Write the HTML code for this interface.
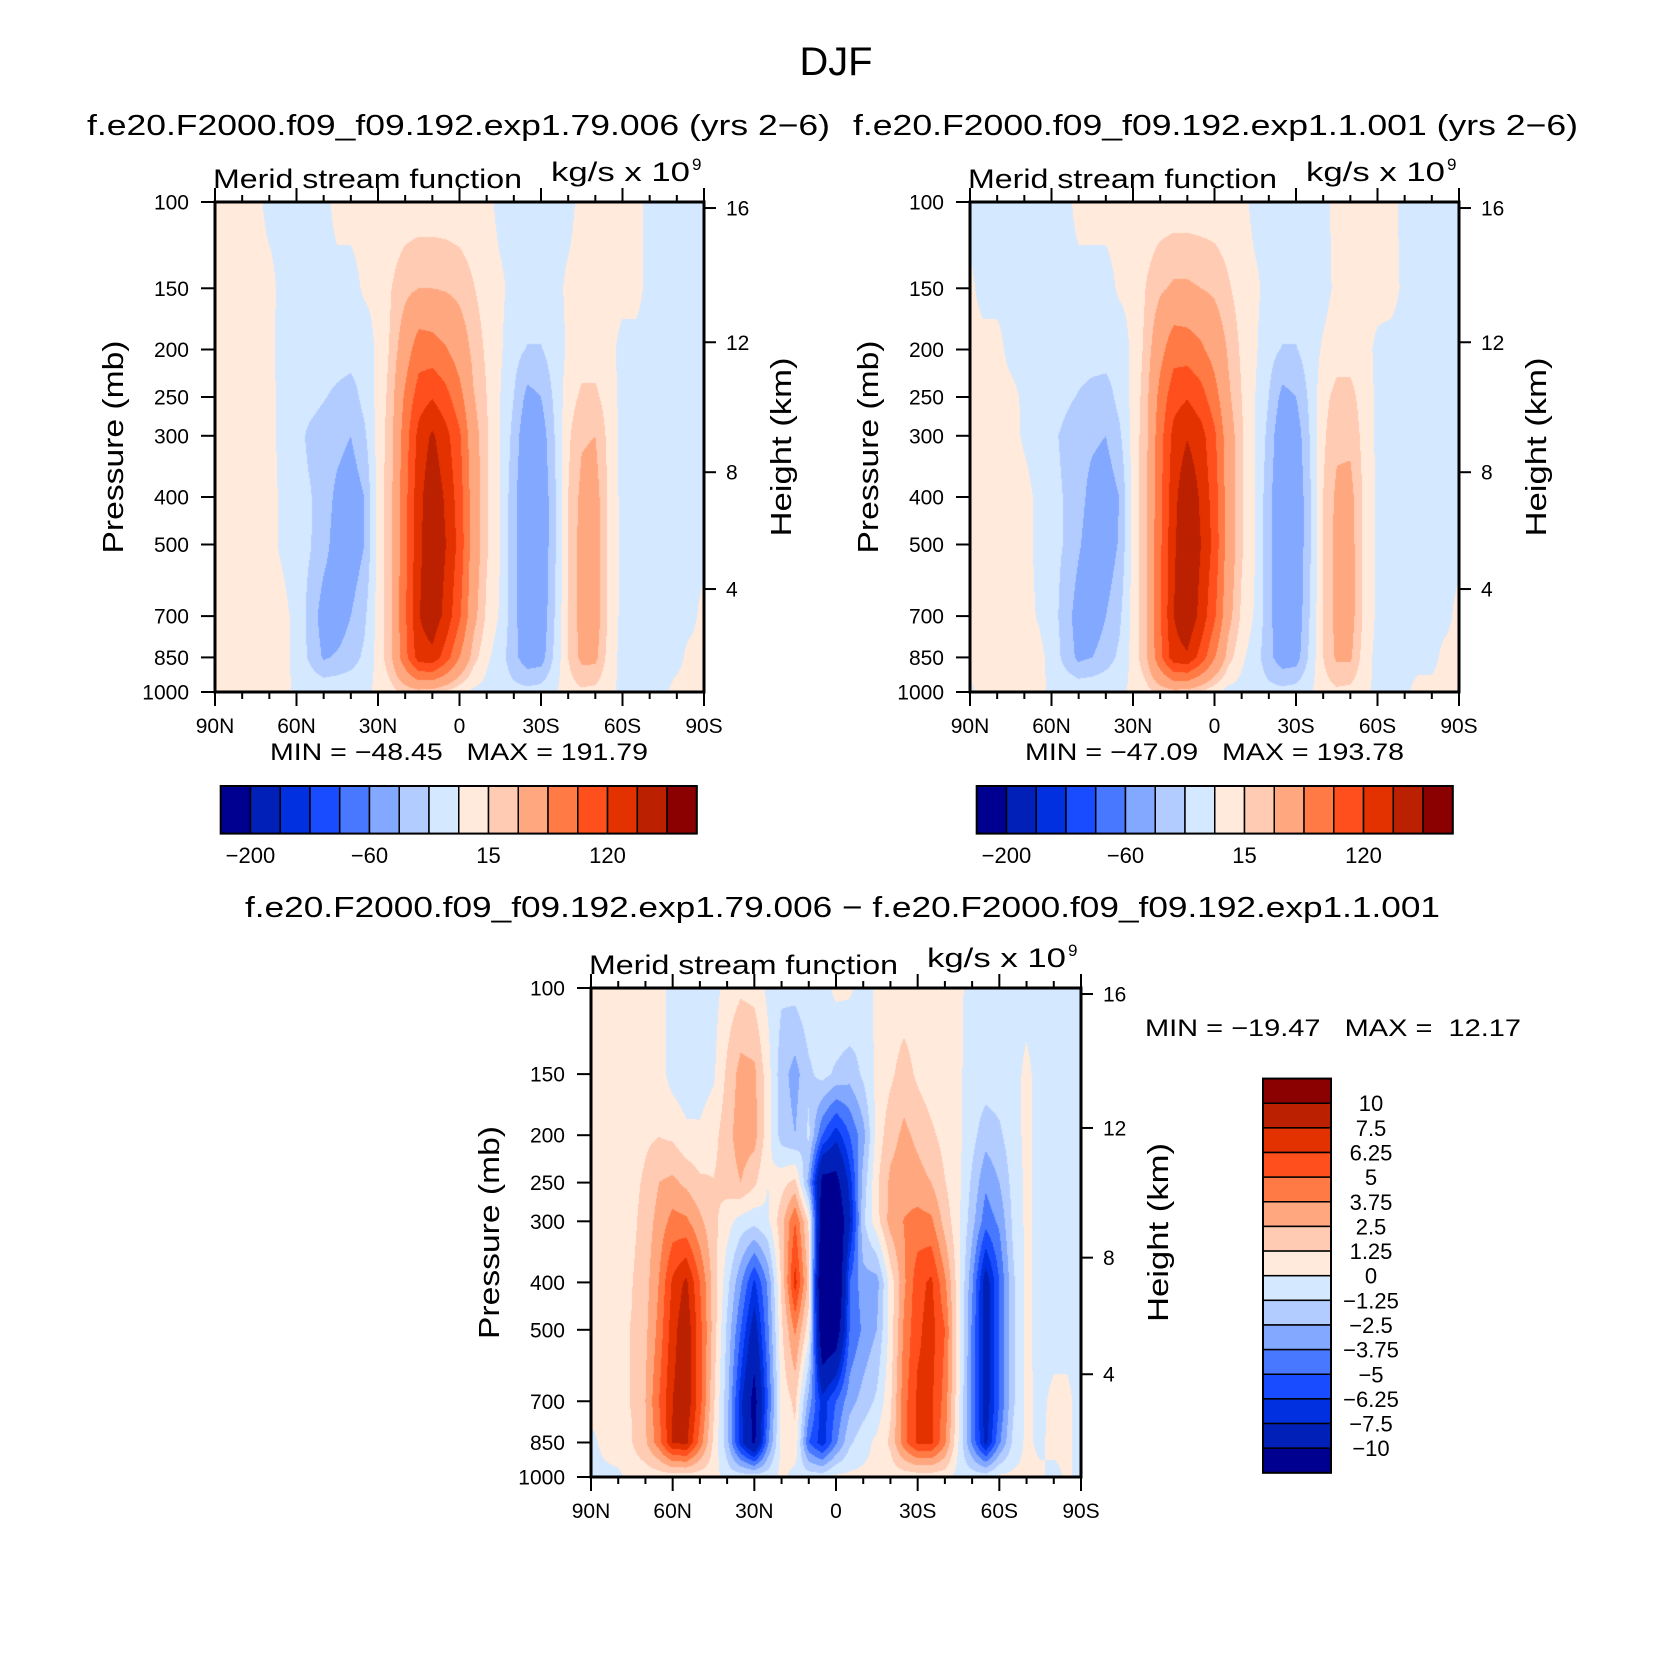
<!DOCTYPE html>
<html><head><meta charset="utf-8">
<style>
html,body{margin:0;padding:0;background:#fff;}
#wrap{position:relative;width:1674px;height:1677px;overflow:hidden;background:#fff;}
canvas{position:absolute;}
svg{position:absolute;left:0;top:0;}
text{font-family:"Liberation Sans",sans-serif;fill:#000;white-space:pre;}
</style></head>
<body>
<div id="wrap">
<canvas id="cA"></canvas>
<canvas id="cB"></canvas>
<canvas id="cD"></canvas>
<svg id="ov" width="1674" height="1677">
<text x="836" y="75" font-size="40" text-anchor="middle" textLength="73" lengthAdjust="spacingAndGlyphs">DJF</text>
<text x="87" y="135" font-size="29" textLength="743" lengthAdjust="spacingAndGlyphs">f.e20.F2000.f09_f09.192.exp1.79.006 (yrs 2−6)</text>
<text x="853" y="135" font-size="29" textLength="725" lengthAdjust="spacingAndGlyphs">f.e20.F2000.f09_f09.192.exp1.1.001 (yrs 2−6)</text>
<text x="245" y="917" font-size="29" textLength="1195" lengthAdjust="spacingAndGlyphs">f.e20.F2000.f09_f09.192.exp1.79.006 − f.e20.F2000.f09_f09.192.exp1.1.001</text>
<text x="270" y="760" font-size="24" xml:space="preserve" textLength="378" lengthAdjust="spacingAndGlyphs">MIN = −48.45   MAX = 191.79</text>
<text x="1025" y="760" font-size="24" xml:space="preserve" textLength="379" lengthAdjust="spacingAndGlyphs">MIN = −47.09   MAX = 193.78</text>
<text x="1145" y="1036" font-size="24" xml:space="preserve" textLength="376" lengthAdjust="spacingAndGlyphs">MIN = −19.47   MAX =  12.17</text>
<g id="g"></g>
</svg>
</div>
<script>
// ---- data ----
const pressureLevels = [100,150,200,250,300,400,500,700,850,1000];
const latTickValues = [90,60,30,0,-30,-60,-90];
const latTickLabels = ["90N","60N","30N","0","30S","60S","90S"];
const pressureTicks = [100,150,200,250,300,400,500,700,850,1000];
const heightTicksKm = [4,8,12,16];
const levelsAbs = [-200,-150,-120,-90,-60,-30,-15,0,15,30,60,90,120,150,200];
const levelsAbsLabels = ["−200","−60","15","120"];
const levelsAbsLabelIdx = [0,4,8,12];
const levelsDiff = [-10,-7.5,-6.25,-5,-3.75,-2.5,-1.25,0,1.25,2.5,3.75,5,6.25,7.5,10];
const levelsDiffLabels = ["−10","−7.5","−6.25","−5","−3.75","−2.5","−1.25","0","1.25","2.5","3.75","5","6.25","7.5","10"];
const palette = ["#000090","#0020b8","#0030e0","#1a4cff","#4878ff","#82a8ff","#b2ccff","#d4e8ff","#ffeadb","#ffcbb3","#ffa880","#ff7a45","#ff4f1c","#e33100","#bb2000","#8b0000"];
// rows = pressureLevels, columns = latitude 90N..90S every 5 deg
const psiA = [
[5,5,5,5,-5,-5,-5,-5,-5,5,5,5,5,5,5,5,5,5,5,5,5,-5,-5,-5,-5,-5,-5,5,5,5,5,5,-5,-5,-5,-5,-5],
[5,5,5,5,5,-5,-5,-5,-5,-5,-5,2,3,15,25,30,30,28,24,16,8,3,-5,-5,-5,-5,3,5,5,5,5,5,-5,-5,-5,-5,-5],
[5,5,5,5,5,-8,-8,-8,-8,-8,-8,-8,3,18,45,75,72,62,45,25,12,2,-10,-16,-16,-8,2,8,8,5,-5,-5,-5,-5,-5,-5,-5],
[5,5,5,5,5,-5,-8,-10,-14,-18,-22,-10,4,22,65,105,118,100,70,32,15,0,-15,-35,-30,-12,8,18,18,8,-5,-5,-5,-5,-5,-5,-5],
[5,5,5,5,5,-5,-10,-18,-22,-25,-30,-18,5,25,75,130,155,130,95,40,17,0,-20,-45,-40,-15,12,28,30,10,-5,-5,-5,-5,-5,-5,-5],
[5,5,5,5,5,-3,-10,-14,-22,-34,-40,-30,5,27,80,140,172,145,105,45,17,0,-25,-48,-45,-18,15,35,38,12,-5,-5,-5,-5,-5,-5,-5],
[5,5,5,5,5,-3,-10,-14,-24,-38,-42,-30,5,27,82,142,175,150,110,45,17,0,-25,-48,-45,-18,15,38,40,12,-5,-5,-5,-5,-5,-5,-5],
[5,5,5,5,5,5,-5,-20,-38,-40,-30,-18,5,28,85,148,172,140,95,38,12,-2,-25,-45,-43,-15,15,38,40,12,-5,-5,-5,-5,-5,-5,5],
[5,5,5,5,5,5,-5,-18,-32,-28,-22,-12,5,28,80,135,140,105,60,22,3,-8,-25,-40,-38,-12,15,35,35,8,-5,-5,-5,-5,-5,5,5],
[5,5,5,5,5,5,-3,-3,-3,-3,-3,-3,3,10,18,22,20,12,3,-3,-5,-8,-10,-10,-8,-2,8,12,10,3,-3,-3,-3,-3,5,5,5]
];
const psiB = [
[-5,-5,-5,-5,-5,-5,-5,-5,5,5,5,5,5,5,5,5,5,5,5,5,5,-5,-5,-5,-5,-5,-5,5,5,5,5,5,-5,-5,-5,-5,-5],
[3,-5,-5,-5,-5,-5,-5,-5,-5,-5,-5,2,3,16,27,33,33,30,26,17,8,3,-5,-5,-5,-5,-5,3,5,5,5,5,-3,-5,-5,-5,-5],
[5,5,5,-5,-8,-8,-8,-8,-8,-8,-8,-8,3,20,50,78,75,65,48,28,12,2,-10,-16,-16,-8,2,8,8,5,-3,-5,-5,-5,-5,-5,-5],
[5,5,5,5,-3,-6,-8,-12,-16,-20,-22,-10,4,24,70,108,118,102,72,34,15,0,-15,-35,-30,-12,10,20,20,8,-3,-5,-5,-5,-5,-5,-5],
[5,5,5,5,-2,-6,-12,-18,-24,-27,-30,-18,5,26,78,130,148,132,96,42,17,0,-20,-45,-40,-15,12,26,26,10,-3,-5,-5,-5,-5,-5,-5],
[5,5,5,5,5,-3,-10,-16,-24,-36,-40,-30,5,28,82,140,175,145,105,45,17,0,-25,-47,-45,-18,15,34,36,12,-3,-5,-5,-5,-5,-5,-5],
[5,5,5,5,5,-3,-10,-16,-28,-40,-42,-28,5,28,84,145,178,150,110,45,17,0,-25,-47,-45,-18,15,36,38,12,-3,-5,-5,-5,-5,-5,-5],
[5,5,5,5,5,-1,-8,-22,-38,-42,-30,-18,5,28,86,150,175,140,95,38,12,-2,-25,-45,-43,-15,15,36,38,12,-3,-5,-5,-5,-5,-5,5],
[5,5,5,5,5,5,-5,-20,-34,-30,-22,-12,5,28,82,138,145,108,62,22,3,-8,-25,-40,-38,-12,15,33,33,8,-5,-5,-5,-5,-5,5,5],
[-3,5,5,5,5,5,-3,-3,-3,-3,-3,-3,3,10,18,22,20,12,3,-5,-5,-8,-10,-10,-8,-2,8,12,10,3,-3,-3,-3,5,5,5,5]
];
const psiDiff = [
[0.5,0.5,0.5,0.5,0.5,0.5,-0.5,-0.5,-0.5,-0.5,0.5,1.0,0.8,-0.3,-1.0,-0.8,-0.3,-0.5,0.3,0.3,-0.8,0.3,0.5,0.5,0.5,0.5,0.5,0.3,-0.5,-0.5,-0.5,-0.5,-0.5,-0.5,-0.5,-0.5,-0.5],
[0.5,0.5,0.5,0.5,0.5,0.5,-0.5,-0.8,-0.6,-0.2,1.5,3.0,2.8,0.5,-2.0,-3.0,-1.5,-0.8,-1.5,-2.0,-1.0,0.3,1.0,1.8,1.0,0.5,0.4,0.2,-0.5,-0.5,-0.5,-0.5,0.3,-0.5,-0.5,-0.5,-0.5],
[0.5,0.5,0.5,0.5,1.0,1.2,1.0,0.3,0.2,0.8,2.0,3.2,3.0,0.5,-1.8,-2.5,-1.0,-5,-7,-5,-3,0.5,2.0,2.8,2.2,1.5,0.8,0.3,-0.8,-2.0,-1.5,-0.5,0.3,-0.5,-0.5,-0.5,-0.5],
[0.5,0.5,0.5,0.8,1.5,2.5,2.8,2.2,1.5,1.3,1.8,2.5,1.5,0.0,0.8,1.6,-3,-11,-11,-7,-2,1.0,2.8,3.2,3.0,2.5,1.3,0.3,-1.5,-3.5,-2.5,-0.8,0.3,-0.5,-0.5,-0.5,-0.5],
[0.5,0.5,0.5,0.9,1.8,3.0,4.2,4.0,2.8,1.6,0.5,-0.5,-0.8,-0.2,2.0,5.0,1.0,-12,-13,-8,-1.5,0.8,3.0,3.8,4.2,4.0,2.0,0.3,-2.0,-4.5,-3.5,-1.0,0.3,-0.5,-0.5,-0.5,-0.5],
[0.5,0.5,0.8,1.2,2.0,3.8,6.5,7.8,5.0,2.0,-0.8,-3.5,-6.5,-3.5,1.5,6.8,2.0,-15,-14,-5,-3,-3,0.5,3.5,5.8,6.5,4.0,0.5,-3.5,-8.5,-5.0,-1.5,0.3,-0.5,-0.5,-0.5,-0.5],
[0.5,0.5,1.0,1.3,2.2,4.2,7.0,8.5,5.5,2.0,-1.5,-5,-8.5,-4,1.0,4.0,0.5,-13,-12,-5,-3.5,-2.5,0.5,4.0,6.0,6.8,5.0,0.5,-4.0,-8.5,-5.0,-1.5,0.3,-0.5,-0.5,-0.5,-0.5],
[0.5,0.3,1.0,1.3,2.5,5,7.5,8.5,5.5,1.5,-2,-7,-11,-5,0.5,1.5,-3,-7,-5,-3,-2,-1,1.0,4.5,6.5,6.5,4.5,0.3,-4,-8.5,-5,-1.5,0.3,-0.3,0.3,0.3,-0.5],
[-0.3,0.3,0.8,1.2,2.3,4.5,7.6,7.8,4.5,1.0,-2,-7,-10.5,-4,0.5,1.0,-5,-7,-4,-1.5,-0.5,0.3,1.5,4.5,6.5,6.5,4,0,-4,-8,-4,-1,0.3,-0.3,0.5,0.3,-0.5],
[-0.3,-0.3,-0.3,0.5,0.5,0.5,0.5,0.5,0.5,0.5,-0.5,-0.5,-0.5,-0.5,0.3,-0.5,-0.5,-0.5,0.3,0.3,0.3,0.3,0.5,0.5,0.5,0.5,0.5,-0.5,-0.5,-0.5,0.3,0.3,0.3,0.3,-0.5,0.3,-0.5]
];

// ---- layout ----
const panels = [
  {id:"cA", key:"a", x:215, y:202, w:489, h:490, grid:psiA, levels:levelsAbs},
  {id:"cB", key:"b", x:970, y:202, w:489, h:490, grid:psiB, levels:levelsAbs},
  {id:"cD", key:"diff", x:591, y:988, w:490, h:489, grid:psiDiff, levels:levelsDiff}
];
const NS = "http://www.w3.org/2000/svg";
const G = document.getElementById("g");
function mk(tag, attrs, parent){
  const e = document.createElementNS(NS, tag);
  for (const k in attrs) e.setAttribute(k, attrs[k]);
  (parent||G).appendChild(e);
  return e;
}
function hexRgb(h){return [parseInt(h.substr(1,2),16),parseInt(h.substr(3,2),16),parseInt(h.substr(5,2),16)];}
const palRgb = palette.map(hexRgb);
function levelIndex(v, lv){let i=0; while(i<lv.length && v>=lv[i]) i++; return i;}
function pToKmInv(z){
  const m=z*1000;
  if (m<=11000) return 1013.25*Math.pow(1-2.25577e-5*m,5.25588);
  return 226.32*Math.exp(-(m-11000)/6341.6);
}
const LP = pressureLevels.map(p=>Math.log(p));

function drawField(P){
  const cv = document.getElementById(P.id);
  const W = Math.round(P.w), H = Math.round(P.h);
  cv.width=W; cv.height=H;
  cv.style.left=P.x+"px"; cv.style.top=P.y+"px";
  const ctx = cv.getContext("2d");
  const img = ctx.createImageData(W,H);
  const ncol = P.grid[0].length-1;
  for (let py=0; py<H; py++){
    const lp = Math.log(100*Math.pow(10,(py+0.5)/H));
    let i=0; while(i<LP.length-2 && lp>LP[i+1]) i++;
    let t=(lp-LP[i])/(LP[i+1]-LP[i]); t=Math.max(0,Math.min(1,t));
    const r0=P.grid[i], r1=P.grid[i+1];
    for (let px=0; px<W; px++){
      const c=(px+0.5)/W*ncol; let j=Math.floor(c); if(j>=ncol) j=ncol-1;
      const u=c-j;
      const v=(1-t)*((1-u)*r0[j]+u*r0[j+1])+t*((1-u)*r1[j]+u*r1[j+1]);
      const col=palRgb[levelIndex(v,P.levels)];
      const o=(py*W+px)*4;
      img.data[o]=col[0]; img.data[o+1]=col[1]; img.data[o+2]=col[2]; img.data[o+3]=255;
    }
  }
  ctx.putImageData(img,0,0);
}

function drawAxes(P){
  const xOf = lat => P.x + (90-lat)/180*P.w;
  const yOf = p => P.y + P.h*Math.log10(p/100);
  const ax = mk("g",{});
  
  
  for (let lat=90; lat>=-90; lat-=10){
    const major = latTickValues.indexOf(lat)>=0;
    const len = major?14:7;
    const x=xOf(lat);
    const tb=mk("line",{x1:x,x2:x,y1:P.y+P.h,y2:P.y+P.h+len,stroke:"#000","stroke-width":2},ax);
    
    
    const tt=mk("line",{x1:x,x2:x,y1:P.y,y2:P.y-len,stroke:"#000","stroke-width":2},ax);
    
    
  }
  latTickValues.forEach((lat,k)=>{
    const t=mk("text",{x:xOf(lat),y:P.y+P.h+41,"font-size":21,"text-anchor":"middle"},ax);
    t.textContent=latTickLabels[k];
    
    
  });
  pressureTicks.forEach(p=>{
    const y=yOf(p);
    const l=mk("line",{x1:P.x-14,x2:P.x,y1:y,y2:y,stroke:"#000","stroke-width":2},ax);
    
    
    const t=mk("text",{x:P.x-26,y:y+7.5,"font-size":21,"text-anchor":"end"},ax);
    t.textContent=String(p);
    
    
  });
  heightTicksKm.forEach(z=>{
    const y=yOf(pToKmInv(z));
    const l=mk("line",{x1:P.x+P.w,x2:P.x+P.w+12,y1:y,y2:y,stroke:"#000","stroke-width":2},ax);
    
    
    const t=mk("text",{x:P.x+P.w+22,y:y+7.5,"font-size":21},ax);
    t.textContent=String(z);
    
    
  });
  const fr=mk("rect",{x:P.x,y:P.y,width:P.w,height:P.h,fill:"none",stroke:"#000","stroke-width":3},ax);
  
  
  const cy=P.y+P.h/2;
  const yt=mk("text",{x:0,y:0,"font-size":29,"text-anchor":"middle",textLength:213,lengthAdjust:"spacingAndGlyphs",transform:`translate(${P.x-92},${cy}) rotate(-90)`},ax);
  yt.textContent="Pressure (mb)";
  
  
  const ht=mk("text",{x:0,y:0,"font-size":29,"text-anchor":"middle",textLength:179,lengthAdjust:"spacingAndGlyphs",transform:`translate(${P.x+P.w+87},${cy}) rotate(-90)`},ax);
  ht.textContent="Height (km)";
  
  
  const ms=mk("text",{x:P.x-2,y:P.y-14,"font-size":27,textLength:309,lengthAdjust:"spacingAndGlyphs"},ax);
  ms.textContent="Merid stream function";
  
  
  const un=mk("text",{x:P.x+336,y:P.y-21,"font-size":27,textLength:139,lengthAdjust:"spacingAndGlyphs"},ax);
  un.textContent="kg/s x 10";
  
  
  const sup=mk("text",{x:P.x+477,y:P.y-32,"font-size":17},ax);
  sup.textContent="9";
  
  
}

function drawHBar(x0, key){
  const y0=786, h=47.6, bw=(696.8-220.7)/palette.length;
  const g=mk("g",{});
  
  
  palette.forEach((c,i)=>{
    const r=mk("rect",{x:x0+i*bw,y:y0,width:bw,height:h,fill:c,stroke:"#000","stroke-width":1.5},g);
    
    
  });
  mk("rect",{x:x0,y:y0,width:bw*palette.length,height:h,fill:"none",stroke:"#000","stroke-width":2},g);
  levelsAbsLabelIdx.forEach((li,k)=>{
    const t=mk("text",{x:x0+(li+1)*bw,y:863,"font-size":22,"text-anchor":"middle"},g);
    t.textContent=levelsAbsLabels[k];
    
    
  });
}
function drawVBar(){
  const x0=1263, w=68, y0=1078.6, bh=(1472.8-1078.6)/palette.length;
  const g=mk("g",{});
  
  
  for (let i=0;i<palette.length;i++){
    const c=palette[palette.length-1-i];
    const r=mk("rect",{x:x0,y:y0+i*bh,width:w,height:bh,fill:c,stroke:"#000","stroke-width":1.5},g);
    
    
  }
  mk("rect",{x:x0,y:y0,width:w,height:bh*palette.length,fill:"none",stroke:"#000","stroke-width":2},g);
  for (let k=0;k<levelsDiffLabels.length;k++){
    const lab=levelsDiffLabels[levelsDiffLabels.length-1-k];
    const t=mk("text",{x:1371,y:y0+(k+1)*bh+8,"font-size":22,"text-anchor":"middle"},g);
    t.textContent=lab;
    
    
  }
}
panels.forEach(P=>{drawField(P); drawAxes(P);});
drawHBar(220.7,"a");
drawHBar(976.7,"b");
drawVBar();
</script>
</body></html>
